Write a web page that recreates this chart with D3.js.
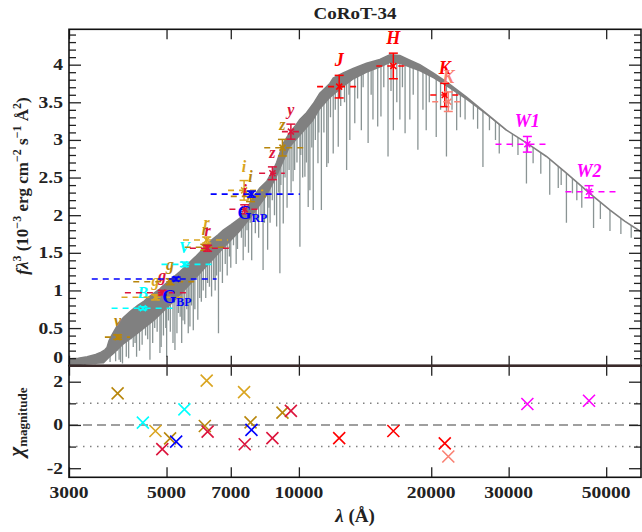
<!DOCTYPE html>
<html><head><meta charset="utf-8">
<script src="https://cdn.jsdelivr.net/npm/d3@7"></script>
<style>
body{margin:0;background:#fff}
text{font-family:"Liberation Serif","Times New Roman",serif;font-weight:bold}
</style>
</head><body>
<svg id="c" width="642" height="532"></svg>
<script>
// ---------------- data ----------------
const bandLabels = ["v","B","g","g","g","G","V","r","r","r","i","i","i","G","z","z","y","J","H","K","K","W1","W2"];
const bandSubs   = ["","","","","","BP","","","","","","","","RP","","","","","","","","",""];
const bandSurvey = ["SkyMapper","Johnson","SDSS","PS1","SkyMapper","Gaia","Johnson","SkyMapper","SDSS","PS1","SDSS","PS1","SkyMapper","Gaia","PS1","SkyMapper","PS1","2MASS","2MASS","2MASS","2MASSb","WISE","WISE"];
const bandWave = [3870,4417,4718,4890,5094,5259,5490,6110,6170,6200,7505,7530,7763,7800,8705,9175,9590,12350,16400,21470,21870,33090,45700];
const bandFlux = [0.38,0.763,0.909,0.970,1.116,1.152,1.347,1.573,1.67,1.56,2.33,2.078,2.25,2.28,2.557,2.897,3.11,3.708,3.983,3.597,3.508,2.942,2.312];
const bandErr  = [0.03,0.02,0.035,0.03,0.04,0.025,0.03,0.04,0.04,0.04,0.13,0.06,0.07,0.04,0.085,0.11,0.10,0.15,0.17,0.155,0.13,0.104,0.08];
const bandLo   = [3620,3750,3950,4020,4200,3380,4870,5500,5450,5650,6900,6950,7000,6300,8120,8340,9150,11000,15000,19900,20100,28000,40400];
const bandHi   = [4130,5170,5450,5550,5930,6500,6390,6950,6900,7000,8300,8250,8400,10050,9290,10400,10100,13720,17600,23150,23600,37200,52500];
const bandChi  = [1.46,0.11,-0.28,-1.12,-0.62,-0.77,0.72,-0.05,2.05,-0.31,1.52,-0.89,0.12,-0.23,-0.61,0.57,0.65,-0.61,-0.28,-0.85,-1.46,0.97,1.12];

// model spectrum: upper envelope [lambda, f*lambda^3]
const specTop = [[3000,0.09],[3150,0.10],[3300,0.12],[3450,0.15],[3550,0.18],[3620,0.21],[3660,0.24],[3700,0.33],[3750,0.40],[3800,0.46],[3890,0.56],[3990,0.64],[4130,0.72],[4300,0.80],[4430,0.85],[4510,0.89],[4700,0.97],[4830,1.02],[4910,1.06],[5100,1.14],[5365,1.25],[5550,1.33],[5750,1.42],[5850,1.46],[6100,1.57],[6330,1.67],[6550,1.74],[6730,1.80],[7000,1.87],[7345,1.96],[7550,2.05],[7740,2.16],[7870,2.24],[8150,2.36],[8450,2.45],[8740,2.60],[8900,2.70],[9210,2.95],[9540,3.10],[9800,3.18],[10050,3.27],[10410,3.36],[10780,3.48],[11160,3.62],[11760,3.75],[11970,3.82],[12610,3.89],[13290,3.95],[14250,4.02],[15280,4.07],[16100,4.13],[16970,4.12],[17880,4.06],[18840,4.00],[20190,3.89],[21660,3.77],[24060,3.57],[26710,3.35],[29660,3.13],[32930,2.96],[36570,2.78],[40600,2.56],[45870,2.29],[50940,2.07],[55070,1.92],[60000,1.78]];
// lower edge of the dense blend of absorption lines
const specLow = [[3000,0.0],[3600,0.03],[3700,0.10],[3800,0.16],[3990,0.28],[4300,0.42],[4700,0.60],[5100,0.80],[5550,1.02],[6100,1.28],[6730,1.55],[7345,1.78],[7870,2.00],[8450,2.25],[8900,2.50],[9540,2.90],[10050,3.05],[10780,3.25],[11160,3.40],[11760,3.55],[12610,3.70],[13290,3.80],[14250,3.89],[15280,3.96],[16100,4.02],[16970,4.01],[17880,3.96],[18840,3.91],[20190,3.82],[21660,3.71],[24060,3.53],[26710,3.33],[29660,3.12]];
// individual absorption lines [lambda, minimum]
const specLines = [[3080,0.01],[3180,0.02],[3260,0.01],[3350,0.03],[3440,0.02],[3530,0.04],[3590,0.05],
[3720,0.05],[3760,0.15],[3830,0.06],[3860,0.20],[3900,0.08],[3930,0.05],[3970,0.03],[4010,0.30],[4050,0.12],[4100,0.10],[4150,0.35],[4200,0.25],[4240,0.30],[4274,0.12],[4340,0.20],[4400,0.28],[4480,0.40],[4530,0.35],[4584,0.08],[4650,0.30],[4700,0.50],[4760,0.45],[4830,0.17],[4861,0.25],[4920,0.40],[4980,0.50],[5003,0.12],[5050,0.60],[5100,0.45],[5172,0.30],[5225,0.21],[5280,0.43],[5320,0.70],[5370,0.65],[5413,0.30],[5450,0.60],[5500,0.55],[5560,0.75],[5602,0.43],[5652,0.52],[5700,0.80],[5752,0.47],[5800,0.75],[5890,0.61],[5950,0.90],[6000,0.85],[6060,1.00],[6140,0.90],[6200,1.10],[6260,1.05],[6330,0.92],[6400,1.15],[6450,1.00],[6500,1.20],[6563,0.43],[6620,1.25],[6700,1.10],[6800,1.35],[6870,1.20],[6950,1.45],[7000,1.30],[7100,1.60],[7200,1.35],[7250,1.55],[7400,1.70],[7470,1.40],[7550,1.58],[7620,1.80],[7680,1.50],[7750,1.90],[7810,1.40],[7960,1.76],[8000,1.95],[8100,1.70],[8200,2.00],[8290,1.27],[8350,1.90],[8490,1.54],[8550,2.10],[8600,1.90],[8700,2.20],[8800,2.00],[8900,1.85],[9000,2.30],[9053,1.23],[9100,2.40],[9214,1.89],[9300,2.50],[9400,2.10],[9500,2.60],[9600,2.30],[9700,2.45],[9780,2.60],[9900,2.70],[10054,1.58],[10100,2.80],[10200,2.50],[10320,2.51],[10400,2.70],[10500,2.11],[10593,2.33],[10700,2.90],[10780,2.07],[10900,3.00],[11050,2.69],[11100,3.10],[11250,2.07],[11400,3.10],[11570,2.64],[11660,2.69],[11800,3.30],[11970,2.82],[12100,3.40],[12290,2.91],[12450,3.45],[12700,3.50],[12840,2.60],[13000,3.60],[13060,3.00],[13400,3.22],[13600,3.55],[13870,3.13],[14000,3.70],[14370,2.96],[14600,3.60],[14740,3.27],[15110,3.18],[15370,3.31],[15600,3.70],[15950,2.78],[16200,3.65],[16400,3.13],[16700,3.50],[16970,3.27],[17200,3.70],[17440,3.09],[17880,3.27],[18200,3.60],[18650,2.87],[19150,3.40],[19480,3.13],[19800,3.50],[20530,3.04],[21000,3.40],[21660,2.78],[22300,3.40],[22850,3.13],[23300,3.30],[23880,3.27],[24940,3.27],[25500,3.15],[26220,2.64],[27130,3.13],[28000,3.00],[28560,2.82],[30600,2.91],[31500,2.80],[32930,2.42],[34100,2.69],[35500,2.55],[37200,2.27],[38900,2.36],[39500,2.40],[40600,1.90],[41900,2.29],[42870,2.20],[44000,2.10],[46800,1.83],[48500,1.95],[51000,1.79],[54000,1.75],[57000,1.70]];

const xTickVals = [3000,5000,7000,10000,20000,30000,50000];
const yTopTicks = [0,0.5,1,1.5,2,2.5,3,3.5,4];
const yTopLabels = ["0","0.5","1","1.5","2","2.5","3","3.5","4"];
const yBotTicks = [-2,0,2];
const yBotLabels = ["-2","0","2"];

// ---------------- styles ----------------
const surveyColor = {SkyMapper:"#b8860b",SDSS:"#daa520",PS1:"#dc143c",Johnson:"#00ffff",Gaia:"#0000ff","2MASS":"#ff0000","2MASSb":"#fa8072",WISE:"#ff00ff"};
const specColor = "#808080", lineColor = "#8a9494";

// ---------------- layout ----------------
const svg = d3.select("#c");
const L=69, R=641, T1=29.3, B1=365.7, B2=477.3;
const x  = d3.scaleLog().domain([3000,60000]).range([L,R]);
const yT = d3.scaleLinear().domain([0,4.47]).range([B1,T1]);
const yB = d3.scaleLinear().domain([-2.42,2.74]).range([B2,B1]);

const defs = svg.append("defs");
defs.append("clipPath").attr("id","clipTop").append("rect")
  .attr("x",L).attr("y",T1).attr("width",R-L).attr("height",B1-T1);
const under = d3.area().x(d=>x(d[0])).y0(B1+2).y1(d=>yT(d[1]));
defs.append("clipPath").attr("id","clipSpec").append("path").attr("d",under(specTop));

// ---------------- spectrum ----------------
const gs = svg.append("g").attr("clip-path","url(#clipTop)");
const gspec = gs.append("g").attr("clip-path","url(#clipSpec)");
gspec.selectAll("line.sp").data(specLines).join("line").attr("class","sp")
  .attr("x1",d=>x(d[0])).attr("x2",d=>x(d[0]))
  .attr("y1",d=>yT(d[1])).attr("y2",T1)
  .attr("stroke",lineColor).attr("stroke-width",1.3);
const lastLow = specLow[specLow.length-1][0];
const bandPts = specTop.filter(d=>d[0]<=lastLow).map(d=>[x(d[0]),yT(d[1])])
  .concat(specLow.slice().reverse().map(d=>[x(d[0]),yT(d[1])]));
gspec.append("path").attr("d",d3.line()(bandPts)+"Z").attr("fill",specColor).attr("stroke","none");
gs.append("path").attr("d",d3.line().x(d=>x(d[0])).y(d=>yT(d[1]))(specTop))
  .attr("fill","none").attr("stroke",specColor).attr("stroke-width",1.6);

// ---------------- photometry ----------------
const gp = svg.append("g");
bandWave.forEach((w,i)=>{
  const c = surveyColor[bandSurvey[i]];
  const px = x(w), py = yT(bandFlux[i]);
  const yHi = yT(bandFlux[i]+bandErr[i]), yLo = yT(bandFlux[i]-bandErr[i]);
  gp.append("line").attr("x1",x(bandLo[i])).attr("x2",x(bandHi[i])).attr("y1",py).attr("y2",py)
    .attr("stroke",c).attr("stroke-width",1.6).attr("stroke-dasharray","6,5");
  gp.append("line").attr("x1",px).attr("x2",px).attr("y1",yHi).attr("y2",yLo).attr("stroke",c).attr("stroke-width",1.5);
  [yHi,yLo].forEach(yy=>gp.append("line").attr("x1",px-4.5).attr("x2",px+4.5).attr("y1",yy).attr("y2",yy).attr("stroke",c).attr("stroke-width",1.5));
  const s=3;
  gp.append("path").attr("d",`M${px-s},${py-s}L${px+s},${py+s}M${px-s},${py+s}L${px+s},${py-s}`).attr("stroke",c).attr("stroke-width",1.6);
  const ir = w>11000;
  if(bandSubs[i]){
    const t = gp.append("text").attr("x",px-14).attr("y",yLo+22).attr("fill",c).attr("font-size",18);
    t.append("tspan").text(bandLabels[i]);
    t.append("tspan").attr("font-size",12).attr("dy",3).text(bandSubs[i]);
  } else {
    gp.append("text").attr("x",px).attr("y",yHi-9).attr("text-anchor","middle")
      .attr("fill",c).attr("font-size",ir?18:16).attr("font-style","italic").text(bandLabels[i]);
  }
});

// ---------------- residuals ----------------
const gr = svg.append("g");
gr.append("line").attr("x1",L).attr("x2",R).attr("y1",yB(0)).attr("y2",yB(0))
  .attr("stroke","#808080").attr("stroke-width",1.5).attr("stroke-dasharray","9,5");
[1,-1].forEach(v=>gr.append("line").attr("x1",L).attr("x2",R).attr("y1",yB(v)).attr("y2",yB(v))
  .attr("stroke","#808080").attr("stroke-width",1.5).attr("stroke-dasharray","1.5,5.5"));
bandWave.forEach((w,i)=>{
  const c = surveyColor[bandSurvey[i]], px=x(w), py=yB(bandChi[i]), s=6;
  gr.append("path").attr("d",`M${px-s},${py-s}L${px+s},${py+s}M${px-s},${py+s}L${px+s},${py-s}`)
    .attr("stroke",c).attr("stroke-width",1.6).attr("fill","none");
});

// ---------------- axes ----------------
function ax(gen, tx, ty){
  const g = svg.append("g").attr("transform",`translate(${tx},${ty})`).call(gen);
  g.select(".domain").remove();
  g.selectAll("line").attr("stroke","#222").attr("stroke-width",1.3);
  return g;
}
const minorTop = d3.range(0,45).map(d=>d/10).filter(v=>Math.abs(v*2-Math.round(v*2))>1e-6);
ax(d3.axisLeft(yT).tickValues(yTopTicks).tickSize(-12).tickFormat(""),L,0);
ax(d3.axisLeft(yT).tickValues(minorTop).tickSize(-7).tickFormat(""),L,0);
ax(d3.axisRight(yT).tickValues(yTopTicks).tickSize(-12).tickFormat(""),R,0);
ax(d3.axisRight(yT).tickValues(minorTop).tickSize(-7).tickFormat(""),R,0);
ax(d3.axisTop(x).tickValues(xTickVals).tickSize(-10).tickFormat(""),0,T1);
ax(d3.axisBottom(x).tickValues(xTickVals).tickSize(-10).tickFormat(""),0,B1);
ax(d3.axisTop(x).tickValues(xTickVals).tickSize(-10).tickFormat(""),0,B1);
ax(d3.axisBottom(x).tickValues(xTickVals).tickSize(-10).tickFormat(""),0,B2);
ax(d3.axisLeft(yB).tickValues(yBotTicks).tickSize(-12).tickFormat(""),L,0);
ax(d3.axisLeft(yB).tickValues([-1,1]).tickSize(-7).tickFormat(""),L,0);
ax(d3.axisRight(yB).tickValues(yBotTicks).tickSize(-12).tickFormat(""),R,0);
ax(d3.axisRight(yB).tickValues([-1,1]).tickSize(-7).tickFormat(""),R,0);

// frames
svg.append("rect").attr("x",L).attr("y",T1).attr("width",R-L).attr("height",B1-T1)
  .attr("fill","none").attr("stroke","#111").attr("stroke-width",1.6);
svg.append("rect").attr("x",L).attr("y",B1).attr("width",R-L).attr("height",B2-B1)
  .attr("fill","none").attr("stroke","#111").attr("stroke-width",1.6);
svg.append("line").attr("x1",L).attr("x2",R).attr("y1",B1).attr("y2",B1).attr("stroke","#3a2a2a").attr("stroke-width",2.4);

// tick labels (slightly wide face)
function stext(xx,yy,txt,anchor,size,sx){
  return svg.append("text").attr("transform",`translate(${xx},${yy}) scale(${sx},1)`)
    .attr("text-anchor",anchor).attr("font-size",size).attr("fill","#222").text(txt);
}
yTopTicks.forEach((v,i)=>stext(63,Math.min(yT(v)+5.5,B1-2.5),yTopLabels[i],"end",17,1.15));
yBotTicks.forEach((v,i)=>stext(63,yB(v)+5.5,yBotLabels[i],"end",17,1.15));
xTickVals.forEach(v=>stext(x(v),497.5,String(v),"middle",17,1.15));

// title
stext((L+R)/2,19,"CoRoT-34","middle",17,1.12);

// x label
const xl = svg.append("text").attr("x",(L+R)/2).attr("y",522).attr("text-anchor","middle").attr("font-size",19).attr("fill","#222");
xl.append("tspan").attr("font-style","italic").text("λ");
xl.append("tspan").text(" (Å)");

// y label top
const yl = svg.append("text").attr("transform","translate(28,186) rotate(-90)").attr("text-anchor","middle").attr("font-size",17).attr("fill","#222");
const parts = [["f",0,"italic"],["λ",0,"italic"],["3",-1],[" (10",1],["−3",-1],[" erg cm",1],["−2",-1],[" s",1],["−1",-1],[" Å",1],["2",-1],[")",1]];
let shifted=false;
parts.forEach(p=>{
  const t = yl.append("tspan").text(p[0]);
  if(p[2]) t.attr("font-style","italic");
  if(p[1]===-1){ t.attr("dy",-7).attr("font-size",12); shifted=true; }
  else if(p[1]===1 && shifted){ t.attr("dy",7); shifted=false; }
});

// y label bottom
const yl2 = svg.append("text").attr("transform","translate(23,422) rotate(-90)").attr("text-anchor","middle").attr("fill","#222");
yl2.append("tspan").attr("font-size",21).attr("font-style","italic").text("χ");
yl2.append("tspan").attr("font-size",13).attr("dy",4).text("magnitude");
</script>
</body></html>
